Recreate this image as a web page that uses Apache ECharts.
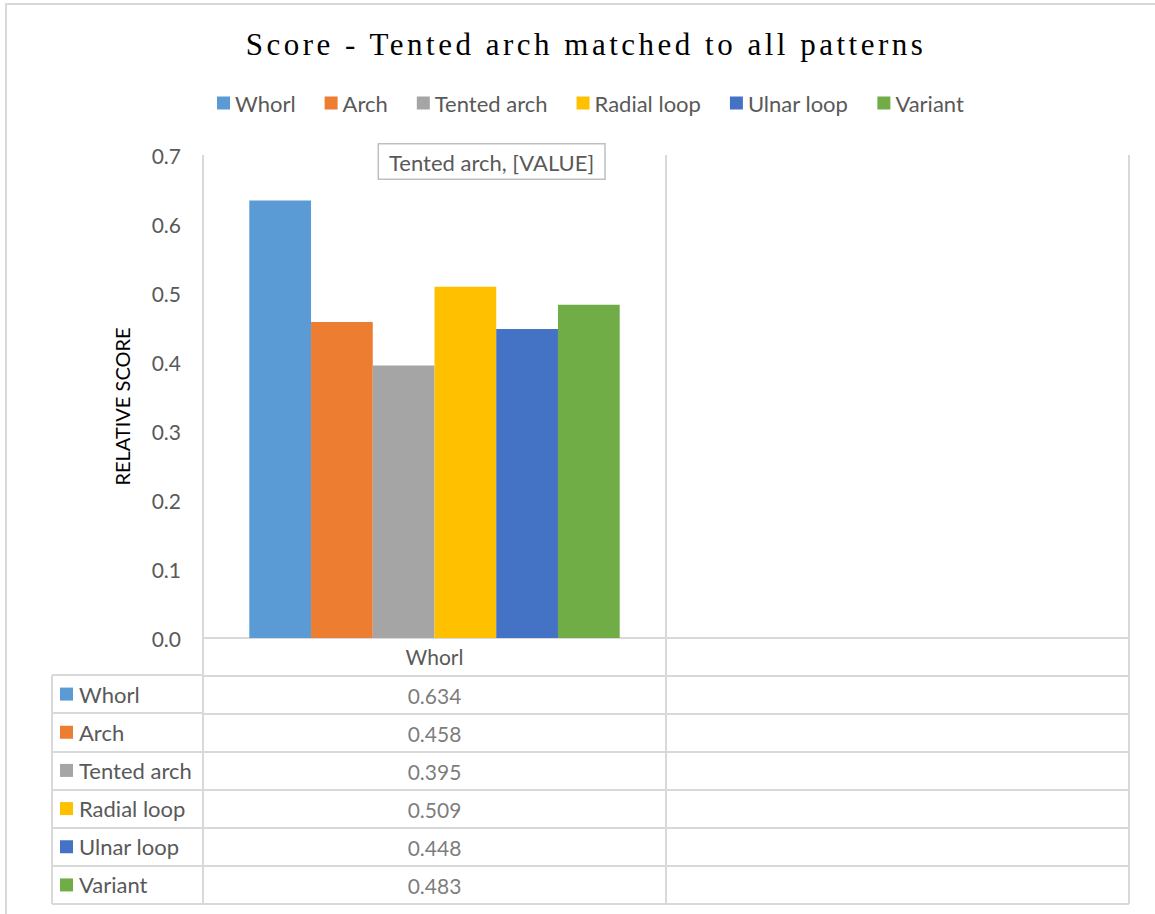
<!DOCTYPE html>
<html><head><meta charset="utf-8">
<script src="https://cdn.jsdelivr.net/npm/echarts@6/dist/echarts.min.js"></script>
<style>
html,body{margin:0;padding:0;background:#fff}
#c{width:1155px;height:914px}
#c text[style*="Liberation Serif"]{letter-spacing:3.5px}
</style></head><body><div id="c"></div>
<script>
// ---- data ----
const categories = ['Whorl', ''];
const seriesNames = ['Whorl', 'Arch', 'Tented arch', 'Radial loop', 'Ulnar loop', 'Variant'];
const whorlScores = [0.634, null];
const archScores = [0.458, null];
const tentedArchScores = [0.395, null];
const radialLoopScores = [0.509, null];
const ulnarLoopScores = [0.448, null];
const variantScores = [0.483, null];
const yTicks = [0, 0.1, 0.2, 0.3, 0.4, 0.5, 0.6, 0.7];
const titleText = 'Score - Tented arch matched to all patterns';
const yAxisTitle = 'RELATIVE SCORE';
const brokenLabel = 'Tented arch, [VALUE]';
// ---- styles ----
const colors = ['#5B9BD5', '#ED7D31', '#A5A5A5', '#FFC000', '#4472C4', '#70AD47'];
const FONT = 'Lato';
const FS = 21;
const GRAY = '#595959';
const LINE = '#d9d9d9';

const allScores = [whorlScores, archScores, tentedArchScores, radialLoopScores, ulnarLoopScores, variantScores];

const barSeries = seriesNames.map((name, i) => {
  const s = {
    name, type: 'bar', xAxisIndex: 0, yAxisIndex: 0,
    data: allScores[i], barGap: '0%', barCategoryGap: '20%',
    itemStyle: { color: colors[i] }
  };
  if (name === 'Tented arch') {
    s.label = {
      show: true, position: 'top', offset: [88, -182],
      formatter: () => brokenLabel,
      fontFamily: FONT, fontSize: 22, color: GRAY,
      backgroundColor: '#fff', borderColor: '#bfbfbf', borderWidth: 1.5,
      padding: [7, 10, 5, 10]
    };
  }
  return s;
});

// data table cells
const tableCells = [];
allScores.forEach((arr, i) => {
  arr.forEach((v, j) => {
    if (v !== null && v !== undefined) tableCells.push([j, i + 1, v]);
  });
});

const rich = {};
seriesNames.forEach((n, i) => {
  rich['k' + i] = { backgroundColor: colors[i], width: 13, height: 13 };
});
rich.t = { fontFamily: FONT, fontSize: 22, color: GRAY, padding: [0, 0, 0, 6] };

const tableRows = [''].concat(seriesNames);

const option = {
  backgroundColor: '#fff',
  animation: false,
  title: {
    text: titleText, left: 581, top: 24, textAlign: 'center',
    textStyle: { fontFamily: 'Liberation Serif', fontSize: 31, fontWeight: 'normal', color: '#000' }
  },
  legend: {
    data: seriesNames, left: 212, top: 87,
    icon: 'rect', itemWidth: 13, itemHeight: 13, itemGap: 29,
    textStyle: { fontFamily: FONT, fontSize: 22, color: GRAY }
  },
  graphic: [{
    type: 'rect', z: -10, silent: true,
    shape: { x: 6, y: 4, width: 1300, height: 1100 },
    style: { fill: 'none', stroke: LINE, lineWidth: 2 }
  }],
  grid: [
    { left: 203, width: 926, top: 155, height: 483 },
    { left: 203, width: 926, top: 638, height: 266 },
    { left: 52, width: 151, top: 675, height: 229 }
  ],
  xAxis: [
    {
      type: 'category', gridIndex: 0, data: categories,
      axisLine: { show: true, lineStyle: { color: LINE, width: 2 } },
      axisTick: { show: false },
      splitLine: { show: true, interval: 0, lineStyle: { color: LINE, width: 2 } },
      axisLabel: { fontFamily: FONT, fontSize: FS, color: GRAY, margin: 8, interval: 0 }
    },
    {
      type: 'category', gridIndex: 1, data: categories,
      axisLine: { show: false }, axisTick: { show: false }, axisLabel: { show: false },
      splitLine: { show: true, interval: 0, lineStyle: { color: LINE, width: 2 } }
    },
    {
      type: 'category', gridIndex: 2, data: [''],
      axisLine: { show: false }, axisTick: { show: false }, axisLabel: { show: false },
      splitLine: { show: true, interval: 0, lineStyle: { color: LINE, width: 2 } }
    }
  ],
  yAxis: [
    {
      type: 'value', gridIndex: 0, min: yTicks[0], max: yTicks[yTicks.length - 1], interval: 0.1,
      axisLine: { show: false }, axisTick: { show: false }, splitLine: { show: false },
      axisLabel: { fontFamily: FONT, fontSize: FS, color: GRAY, margin: 22, formatter: v => v.toFixed(1) },
      name: yAxisTitle, nameLocation: 'middle', nameGap: 71, nameRotate: 90,
      nameTextStyle: { fontFamily: FONT, fontSize: 20, color: '#000', padding: [0, 20, 0, 0] }
    },
    {
      type: 'category', gridIndex: 1, data: tableRows, inverse: true,
      axisLine: { show: false }, axisTick: { show: false }, axisLabel: { show: false },
      splitLine: { show: true, interval: 0, lineStyle: { color: LINE, width: 2 } }
    },
    {
      type: 'category', gridIndex: 2, data: seriesNames, inverse: true,
      axisLine: { show: false }, axisTick: { show: false },
      axisLabel: {
        inside: true, margin: 8, interval: 0, align: 'left',
        formatter: (v, idx) => '{k' + idx + '|}{t|' + v + '}',
        rich
      },
      splitLine: { show: true, interval: 0, lineStyle: { color: LINE, width: 2 } }
    }
  ],
  series: barSeries.concat([{
    name: 'table', type: 'scatter', xAxisIndex: 1, yAxisIndex: 1,
    data: tableCells, symbolSize: 2, itemStyle: { color: 'rgba(255,255,255,0)' },
    label: {
      show: true, position: 'inside', formatter: p => p.value[2].toFixed(3),
      fontFamily: FONT, fontSize: FS, color: GRAY
    },
    silent: true
  }])
};

const chart = echarts.init(document.getElementById('c'), null, { renderer: 'svg' });
chart.setOption(option);
</script></body></html>
